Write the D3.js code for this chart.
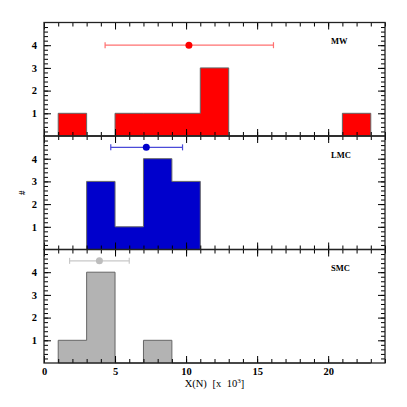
<!DOCTYPE html>
<html>
<head>
<meta charset="utf-8">
<script src="https://cdn.jsdelivr.net/npm/d3@7"></script>
<style>
  body { margin: 0; background: #fff; }
  svg text { font-family: "Liberation Serif", "DejaVu Serif", serif; font-weight: bold; fill: #000; }
</style>
</head>
<body>
<script>
// histogram bins (left edges, width 2 in units of 10^3)
const binStarts = [1, 3, 5, 7, 9, 11, 13, 15, 17, 19, 21];
const binWidth = 2;
const panelNames = ["MW", "LMC", "SMC"];
const mwCounts  = [1, 0, 1, 1, 1, 3, 0, 0, 0, 0, 1];
const lmcCounts = [0, 3, 1, 4, 3, 0, 0, 0, 0, 0, 0];
const smcCounts = [1, 4, 0, 1, 0, 0, 0, 0, 0, 0, 0];
// mean and spread shown above each histogram
const errMean = [10.2, 7.2, 3.9];
const errLo   = [4.3, 4.7, 1.8];
const errHi   = [16.15, 9.75, 6.0];
const errLevel = [4, 4.5, 4.5];
const xTicks = [0, 5, 10, 15, 20];
const yTicks = [1, 2, 3, 4];

const counts = [mwCounts, lmcCounts, smcCounts];
const fills = ["#ff0000", "#0000cc", "#b3b3b3"];
const barColors = ["#ff7070", "#4a4ad8", "#c8c8c8"];
const dotColors = ["#ff0000", "#0000cc", "#bdbdbd"];

const width = 407, height = 407;
const margin = {left: 44, right: 22, top: 22.5, bottom: 44};
const panelH = (height - margin.top - margin.bottom) / 3;

const svg = d3.select("body").append("svg")
    .attr("width", width).attr("height", height);

const x = d3.scaleLinear().domain([0, 24]).range([margin.left, width - margin.right]);
const xMinor = d3.range(0, 25, 1);
const yMinor = d3.range(0.2, 5, 0.2).map(v => +v.toFixed(1));

panelNames.forEach((name, i) => {
    const top = margin.top + i * panelH;
    const y = d3.scaleLinear().domain([0, 5]).range([top + panelH, top]);
    const g = svg.append("g");

    // step histogram
    const pts = binStarts.map((b, j) => ({x: b, c: counts[i][j]}));
    pts.push({x: binStarts[binStarts.length - 1] + binWidth, c: 0});
    const area = d3.area()
        .curve(d3.curveStepAfter)
        .x(d => x(d.x))
        .y0(y(0))
        .y1(d => y(d.c));
    g.append("path")
        .datum(pts)
        .attr("d", area)
        .attr("fill", fills[i])
        .attr("stroke", "#666")
        .attr("stroke-width", 1);

    // error bar
    const ey = y(errLevel[i]);
    g.append("line")
        .attr("x1", x(errLo[i])).attr("x2", x(errHi[i]))
        .attr("y1", ey).attr("y2", ey)
        .attr("stroke", barColors[i]).attr("stroke-width", 1.2);
    [errLo[i], errHi[i]].forEach(v => {
        g.append("line")
            .attr("x1", x(v)).attr("x2", x(v))
            .attr("y1", ey - 3).attr("y2", ey + 3)
            .attr("stroke", barColors[i]).attr("stroke-width", 1.2);
    });
    g.append("circle")
        .attr("cx", x(errMean[i])).attr("cy", ey).attr("r", 3.5)
        .attr("fill", dotColors[i]);

    // axes: ticks inward on all four sides
    const bottom = top + panelH, right = width - margin.right;
    const axes = [
        [() => d3.axisBottom(x), `translate(0,${bottom})`, true],
        [() => d3.axisTop(x), `translate(0,${top})`, true],
        [() => d3.axisLeft(y), `translate(${margin.left},0)`, false],
        [() => d3.axisRight(y), `translate(${right},0)`, false]
    ];
    axes.forEach(([mk, tr, isX], k) => {
        const minor = isX ? xMinor : yMinor;
        const major = isX ? xTicks : yTicks;
        const showLabels = (k === 2) || (k === 0 && i === 2);
        g.append("g").attr("transform", tr)
            .call(mk().tickValues(minor).tickSize(-4).tickSizeOuter(0).tickFormat(""))
            .call(s => s.select(".domain").remove());
        const a = g.append("g").attr("transform", tr)
            .call(mk().tickValues(major).tickSize(-7).tickSizeOuter(0)
                .tickPadding(isX ? 5 : 7)
                .tickFormat(showLabels ? d3.format("d") : ""));
        a.select(".domain").remove();
        a.selectAll("text").attr("font-size", 10.5)
            .style("font-family", "'Liberation Serif', serif").style("font-weight", "bold");
    });
    g.selectAll(".tick line").attr("stroke", "#000").attr("stroke-width", 1);

    // frame
    g.append("rect")
        .attr("x", margin.left).attr("y", top)
        .attr("width", right - margin.left).attr("height", panelH)
        .attr("fill", "none").attr("stroke", "#222").attr("stroke-width", 1.3);

    g.append("text")
        .attr("x", x(20.2)).attr("y", y(4.05))
        .attr("font-size", 8.5)
        .text(name);
});

// axis labels
svg.append("text")
    .attr("x", (margin.left + width - margin.right) / 2).attr("y", 387)
    .attr("text-anchor", "middle").attr("font-size", 10.5)
    .attr("word-spacing", 3)
    .style("font-weight", "normal")
    .html("X(N) [x 10<tspan baseline-shift='super' font-size='7'>3</tspan>]");

svg.append("text")
    .attr("transform", `translate(25,${margin.top + 1.5 * panelH}) rotate(-90)`)
    .attr("text-anchor", "middle").attr("font-size", 9)
    .text("#");
</script>
</body>
</html>
